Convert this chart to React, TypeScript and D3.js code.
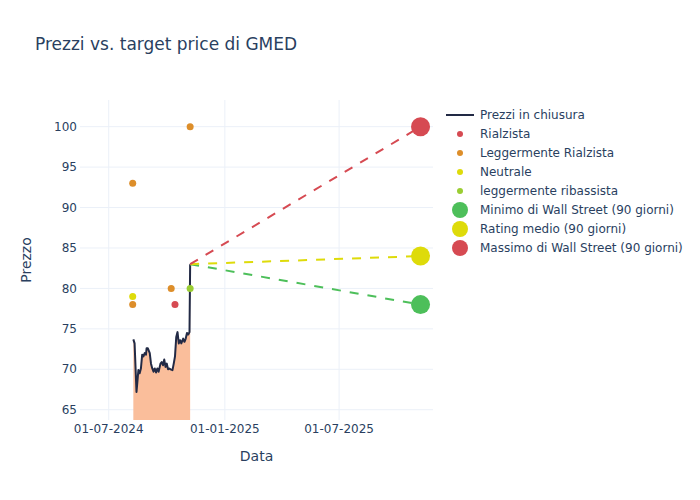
import React from "react";
import * as d3 from "d3";

const priceDates: string[] = [
  "2024-08-09","2024-08-11","2024-08-14","2024-08-17","2024-08-19","2024-08-21","2024-08-23","2024-08-25",
  "2024-08-27","2024-08-29","2024-08-30","2024-09-01","2024-09-04","2024-09-06","2024-09-08","2024-09-10",
  "2024-09-12","2024-09-14","2024-09-16","2024-09-18","2024-09-21","2024-09-23","2024-09-25","2024-09-27",
  "2024-09-29","2024-10-01","2024-10-03","2024-10-05","2024-10-07","2024-10-10","2024-10-12","2024-10-14",
  "2024-10-16","2024-10-18","2024-10-20","2024-10-22","2024-10-24","2024-10-27","2024-10-29","2024-10-31",
  "2024-11-02","2024-11-04","2024-11-06","2024-11-07",
];
const priceValues: number[] = [
  73.7, 73.2, 67.2, 69.9, 69.5, 70.1, 71.8, 71.6,
  72.0, 71.8, 72.6, 72.6, 72.0, 70.7, 70.1, 69.7,
  70.1, 69.6, 70.1, 69.7, 70.7, 70.9, 70.5, 71.2,
  70.3, 70.7, 70.0, 70.1, 70.0, 69.9, 70.7, 71.6,
  74.0, 74.6, 73.2, 73.6, 73.2, 73.8, 73.4, 73.8,
  74.5, 74.3, 74.6, 83.0,
];

const ratingDates: string[] = ["2024-08-08", "2024-08-08", "2024-08-08", "2024-10-08", "2024-10-14", "2024-11-07", "2024-11-07"];
const ratingValues: number[] = [93, 79, 78, 80, 78, 100, 80];
const ratingTypes: string[] = ["Leggermente Rialzista", "Neutrale", "Leggermente Rialzista", "Leggermente Rialzista", "Rialzista", "Leggermente Rialzista", "leggermente ribassista"];

const targetDate = "2025-11-07";
const targetNames: string[] = ["Minimo di Wall Street (90 giorni)", "Rating medio (90 giorni)", "Massimo di Wall Street (90 giorni)"];
const targetValues: number[] = [78, 84, 100];

const yTicks: number[] = [65, 70, 75, 80, 85, 90, 95, 100];
const xTicks: string[] = ["2024-07-01", "2025-01-01", "2025-07-01"];

const ratingColors: Record<string, string> = {
  "Rialzista": "#d64a52",
  "Leggermente Rialzista": "#dd8e2a",
  "Neutrale": "#dedb0a",
  "leggermente ribassista": "#9acd32",
};
const targetColors: string[] = ["#4dbf5a", "#dedb0a", "#d64a52"];

const parse = d3.utcParse("%Y-%m-%d");
const fmt = d3.utcFormat("%d-%m-%Y");
const TEXT = "#2a3f5f";
const GRID = "#ebf0f8";
const FONT = "'DejaVu Sans', Verdana, sans-serif";

export default function App() {
  const left = 80, right = 433, top = 100, bottom = 420;
  const x = d3.scaleUtc()
    .domain([new Date(Date.UTC(2024, 4, 16, 12)), new Date(Date.UTC(2025, 10, 26, 18))])
    .range([left, right]);
  const y = d3.scaleLinear().domain([63.73, 103.3]).range([bottom, top]);

  const price = priceDates.map((d, i) => ({ d: parse(d)!, v: priceValues[i] }));
  const line = d3.line<{ d: Date; v: number }>().x((p) => x(p.d)).y((p) => y(p.v));
  const area = d3.area<{ d: Date; v: number }>().x((p) => x(p.d)).y0(bottom).y1((p) => y(p.v));
  const last = price[price.length - 1];
  const tDate = parse(targetDate)!;

  const legendItems = [
    { kind: "line", label: "Prezzi in chiusura", color: "#222a45" },
    { kind: "small", label: "Rialzista", color: ratingColors["Rialzista"] },
    { kind: "small", label: "Leggermente Rialzista", color: ratingColors["Leggermente Rialzista"] },
    { kind: "small", label: "Neutrale", color: ratingColors["Neutrale"] },
    { kind: "small", label: "leggermente ribassista", color: ratingColors["leggermente ribassista"] },
    ...targetNames.map((n, i) => ({ kind: "big", label: n, color: targetColors[i] })),
  ];

  return (
    <svg width={700} height={500} style={{ position: "absolute", left: 0, top: 0, background: "#fff" }} fontFamily={FONT}>
      <rect width={700} height={500} fill="#fff" />
      <text x={35} y={50} fontSize={17} fill={TEXT}>Prezzi vs. target price di GMED</text>

      {yTicks.map((t) => (
        <g key={"y" + t}>
          <line x1={left} x2={right} y1={y(t)} y2={y(t)} stroke={GRID} strokeWidth={1} />
          <text x={77} y={y(t)} dy="0.35em" textAnchor="end" fontSize={12} fill={TEXT}>{t}</text>
        </g>
      ))}
      {xTicks.map((t) => {
        const d = parse(t)!;
        return (
          <g key={"x" + t}>
            <line x1={x(d)} x2={x(d)} y1={top} y2={bottom} stroke={GRID} strokeWidth={1} />
            <text x={x(d)} y={433} textAnchor="middle" fontSize={12} fill={TEXT}>{fmt(d)}</text>
          </g>
        );
      })}

      <path d={area(price)!} fill="#fabe9b" />
      <path d={line(price)!} fill="none" stroke="#222a45" strokeWidth={2} strokeLinejoin="round" />

      {targetValues.map((v, i) => (
        <line key={"tl" + i} x1={x(last.d)} y1={y(last.v)} x2={x(tDate)} y2={y(v)}
          stroke={targetColors[i]} strokeWidth={2} strokeDasharray="9,9" />
      ))}

      {ratingDates.map((d, i) => (
        <circle key={"r" + i} cx={x(parse(d)!)} cy={y(ratingValues[i])} r={3.5} fill={ratingColors[ratingTypes[i]]} />
      ))}

      {targetValues.map((v, i) => (
        <circle key={"tc" + i} cx={x(tDate)} cy={y(v)} r={9.5} fill={targetColors[i]} />
      ))}

      <text x={20} y={0} transform={`translate(31,${(top + bottom) / 2}) rotate(-90)`} textAnchor="middle" fontSize={14} fill={TEXT} dx={-20}>Prezzo</text>
      <text x={(left + right) / 2} y={461} textAnchor="middle" fontSize={14} fill={TEXT}>Data</text>

      {legendItems.map((it, i) => {
        const cy = 115 + i * 19;
        return (
          <g key={"lg" + i}>
            {it.kind === "line" && <line x1={446} x2={474} y1={cy} y2={cy} stroke={it.color} strokeWidth={2} />}
            {it.kind === "small" && <circle cx={460} cy={cy} r={3} fill={it.color} />}
            {it.kind === "big" && <circle cx={460} cy={cy} r={8} fill={it.color} />}
            <text x={480} y={cy} dy="0.35em" fontSize={12} fill={TEXT}>{it.label}</text>
          </g>
        );
      })}
    </svg>
  );
}
